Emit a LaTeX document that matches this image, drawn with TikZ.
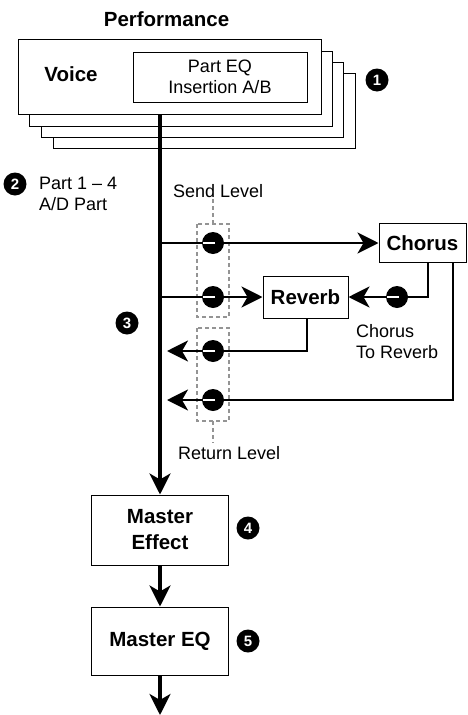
\documentclass[tikz,border=0pt]{standalone}
\usepackage{fontspec}
\setmainfont{Liberation Sans}
\usetikzlibrary{arrows.meta,calc}
\tikzset{
  boxst/.style={draw=black, line width=1pt, fill=white, rectangle, inner sep=0pt, align=center},
  reg/.style={font=\fontsize{18}{21}\selectfont, inner sep=0pt},
  bld/.style={font=\bfseries\fontsize{20.5}{25}\selectfont, inner sep=0pt},
  mainln/.style={line width=3.4pt, draw=black},
  brln/.style={line width=2.7pt, draw=black},
  tip/.style={-{Stealth[length=21pt,width=21pt,inset=6pt]}},
  knob/.style={circle, fill=black, minimum size=22pt, inner sep=0pt},
  pointer/.style={draw=white, line width=2.2pt},
  dashbox/.style={draw=black!42, line width=1.5pt, dash pattern=on 4pt off 3pt},
  numc/.style={circle, fill=black, text=white, minimum size=23pt, inner sep=0pt, font=\bfseries\fontsize{15}{15}\selectfont},
}
\begin{document}
\begin{tikzpicture}[x=1pt,y=-1pt]
\useasboundingbox (0,0) rectangle (467,715);
% title
\node[bld] (perf) at (166.5,19) {Performance};
% stacked boxes
\node[boxst, minimum width=302pt, minimum height=75pt] (b4) at (204,110.5) {};
\node[boxst, minimum width=302pt, minimum height=75pt] (b3) at (192,99.5) {};
\node[boxst, minimum width=303pt, minimum height=75pt] (b2) at (180.5,88.5) {};
\node[boxst, minimum width=303pt, minimum height=75pt] (voicebox) at (169.5,76.5) {};
\node[bld] (voice) at (71,74) {Voice};
\node[boxst, reg, minimum width=174pt, minimum height=50pt] (peq) at (220,77) {Part EQ\\Insertion A/B};
\node[numc] (n1) at (377,80) {1};
% part label
\node[numc] (n2) at (15,184) {2};
\node[reg, anchor=west, align=left] (partlbl) at (39,193.5) {Part 1 – 4\\A/D Part};
% effect boxes
\node[boxst, bld, minimum width=87pt, minimum height=39pt] (chorus) at (422.5,243) {Chorus};
\node[boxst, bld, minimum width=85pt, minimum height=42pt] (reverb) at (305.5,297) {Reverb};
\node[reg, anchor=west, align=left] (ctr) at (356,342) {Chorus\\To Reverb};
\node[numc] (n3) at (127,323) {3};
% master boxes
\node[boxst, bld, minimum width=137pt, minimum height=70pt, font=\bfseries\fontsize{20.5}{26}\selectfont] (me) at (160,530) {Master\\Effect};
\node[boxst, bld, minimum width=137pt, minimum height=68pt] (meq) at (160,641) {Master EQ};
\node[numc] (n4) at (248,528) {4};
\node[numc] (n5) at (248,641) {5};
% coordinates
\coordinate (top) at (me.north |- voicebox.south);
\coordinate (s1) at (161,243);
\coordinate (s2) at (161,297);
\coordinate (r1) at (167,351);
\coordinate (r2) at (167,400);
\coordinate (out) at (160,715);
% dashed level groups
\draw[dashbox] (213,199) -- (213,224);
\draw[dashbox] (197,224) rectangle (229,317);
\draw[dashbox] (197,328) rectangle (229,421);
\draw[dashbox] (213,421) -- (213,443);
\node[reg, anchor=west] (sendlbl) at (173,191) {Send Level};
\node[reg, anchor=west] (retlbl) at (178,453) {Return Level};
% connectors
\draw[mainln, tip] (top) -- (me.north);
\draw[mainln, tip] (me.south) -- (meq.north);
\draw[mainln, tip] (meq.south) -- (out);
\draw[brln, tip] (s1) -- (chorus.west);
\draw[brln, tip] (s2) -- (reverb.west);
\draw[brln, tip] ([xshift=5.5pt]chorus.south) |- (reverb.east);
\draw[brln, tip] ([xshift=1.5pt]reverb.south) |- (r1);
\draw[brln, tip] ([xshift=30.5pt]chorus.south) |- (r2);
% knobs
\foreach \n/\x/\y in {k1/213/243, k2/213/297, k3/213/351, k4/213/400, k5/397/297}{
  \node[knob] (\n) at (\x,\y) {};
  \draw[pointer] ([xshift=2pt]\n.center) -- ([xshift=-10.5pt]\n.center);
}
\end{tikzpicture}
\end{document}
